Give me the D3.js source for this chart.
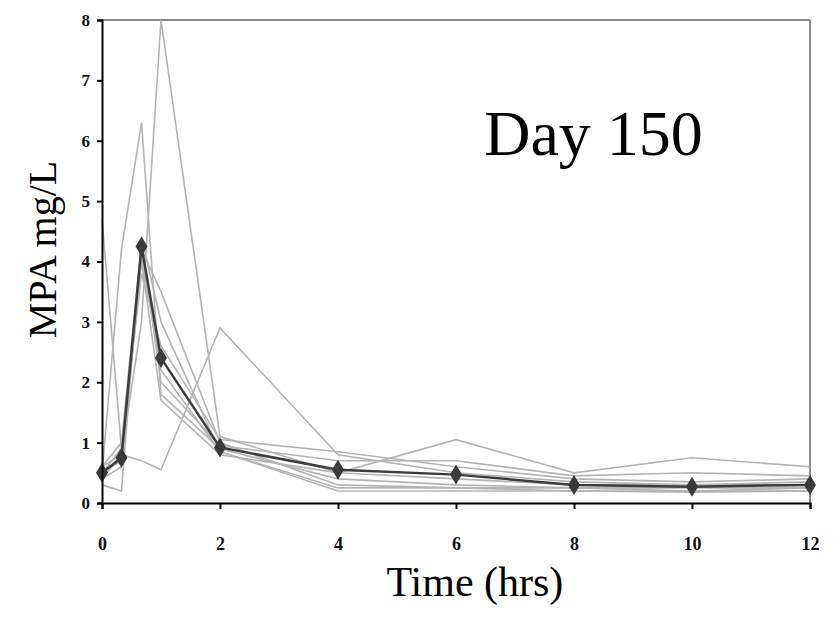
<!DOCTYPE html>
<html>
<head>
<meta charset="utf-8">
<script src="https://cdn.jsdelivr.net/npm/d3@7"></script>
<style>
  body { margin: 0; background: #fff; }
  text { font-family: "Liberation Serif", "DejaVu Serif", serif; }
</style>
</head>
<body>
<script>

var margin = {top: 20, right: 23, bottom: 118, left: 102},
    width = 833 - margin.left - margin.right,
    height = 621 - margin.top - margin.bottom

// sampling times (hrs)
var times = [0, 0.33, 0.67, 1, 2, 4, 6, 8, 10, 12];

// individual patients (gray lines)
var subjects = [
  [0.6, 0.8, 3.0, 8.0, 1.1, 0.5, 0.4, 0.3, 0.3, 0.3],
  [0.5, 4.2, 6.3, 1.8, 0.9, 0.4, 0.3, 0.25, 0.2, 0.25],
  [0.4, 0.8, 0.7, 0.55, 2.9, 0.8, 0.5, 0.35, 0.3, 0.35],
  [4.7, 0.9, 4.2, 3.5, 1.0, 0.3, 0.25, 0.2, 0.2, 0.2],
  [0.3, 0.2, 4.4, 3.0, 0.85, 0.25, 0.25, 0.25, 0.25, 0.25],
  [0.5, 0.7, 4.0, 1.7, 0.8, 0.5, 1.05, 0.5, 0.75, 0.6],
  [0.6, 1.0, 4.3, 2.0, 0.95, 0.7, 0.7, 0.45, 0.5, 0.45],
  [0.5, 0.9, 3.8, 2.6, 1.05, 0.85, 0.6, 0.4, 0.35, 0.4],
  [0.4, 0.6, 4.1, 2.2, 0.85, 0.2, 0.2, 0.2, 0.18, 0.2]
];

// mean curve (dark line with diamonds)
var mean = [0.5, 0.75, 4.25, 2.4, 0.92, 0.55, 0.47, 0.3, 0.27, 0.3];

var xTicks = [0, 2, 4, 6, 8, 10, 12];
var yTicks = [0, 1, 2, 3, 4, 5, 6, 7, 8];

var x = d3.scaleLinear()
          .domain([0, 12])
          .range([0, width]);

var y = d3.scaleLinear()
          .domain([0, 8])
          .range([height, 0]);

var line = d3.line()
    .x(function(d, i) { return x(times[i]); })
    .y(function(d) { return y(d); })

var svg = d3.select("body").append("svg")
    .attr("width", 833)
    .attr("height", 621)
  .append("g")
    .attr("transform", "translate(" + margin.left + "," + margin.top + ")");

// frame top + right in gray
svg.append("line")
  .attr("x1", 0).attr("x2", width)
  .attr("y1", 0).attr("y2", 0)
  .attr("stroke", "#8a8a8a").attr("stroke-width", 2);
svg.append("line")
  .attr("x1", width).attr("x2", width)
  .attr("y1", 0).attr("y2", height)
  .attr("stroke", "#8a8a8a").attr("stroke-width", 2);

subjects.forEach(function(s) {
  svg.append("path")
    .attr("d", line(s))
    .attr("stroke", "#b4b4b4")
    .attr("stroke-width", 1.6)
    .attr("fill", "none");
});

svg.append("path")
  .attr("d", line(mean))
  .attr("stroke", "#3c3c3c")
  .attr("stroke-width", 2.5)
  .attr("fill", "none");

svg.selectAll(".dia")
  .data(mean)
  .enter().append("path")
  .attr("class", "dia")
  .attr("d", "M0,-10L6,0L0,10L-6,0Z")
  .attr("transform", function(d, i) { return "translate(" + x(times[i]) + "," + y(d) + ")"; })
  .attr("fill", "#3a3a3a");

// axes
var xAxis = svg.append("g")
  .attr("transform", "translate(0," + height + ")")
  .call(d3.axisBottom(x).tickValues(xTicks).tickSize(6).tickPadding(28));
var yAxis = svg.append("g")
  .call(d3.axisLeft(y).tickValues(yTicks).tickSize(5).tickPadding(7));

[xAxis, yAxis].forEach(function(a) {
  a.select(".domain").attr("stroke", "#000").attr("stroke-width", 2);
  a.selectAll(".tick line").attr("stroke", "#000").attr("stroke-width", 2);
  a.selectAll("text")
    .style("font-family", "'Liberation Serif', serif")
    .style("font-weight", "bold")
    .attr("fill", "#111");
});
xAxis.selectAll("text").style("font-size", "18px");
yAxis.selectAll("text").style("font-size", "17px");

// labels
svg.append("text")
  .attr("x", x(6.32))
  .attr("y", height + 93)
  .attr("text-anchor", "middle")
  .style("font-size", "42px")
  .text("Time (hrs)");

svg.append("text")
  .attr("transform", "translate(" + (-46) + "," + (height / 2 - 12) + ") rotate(-90)")
  .attr("text-anchor", "middle")
  .style("font-size", "40px")
  .text("MPA mg/L");

svg.append("text")
  .attr("x", x(8.33))
  .attr("y", 135)
  .attr("text-anchor", "middle")
  .style("font-size", "64px")
  .text("Day 150");

</script>
</body>
</html>
